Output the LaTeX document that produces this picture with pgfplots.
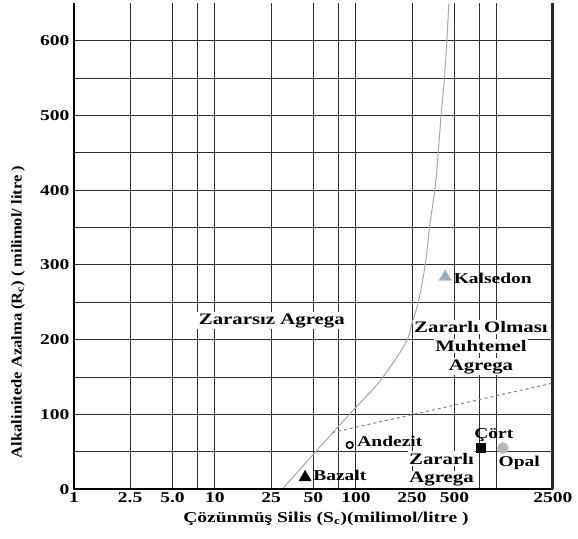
\documentclass[border=0pt]{standalone}
\usepackage{fontspec}
\setmainfont{Liberation Serif}[FakeStretch=1.3]
\newfontfamily\narrowserif{Liberation Serif}[FakeStretch=1.1]
\usepackage{pgfplots}
\pgfplotsset{compat=1.18}
\definecolor{curvegray}{HTML}{A8A8A8}
\definecolor{dashgray}{HTML}{858585}
\definecolor{kalsedon}{HTML}{98AEC4}
\definecolor{opal}{HTML}{B8B8B8}
\newcommand\lab{\fontsize{15}{18}\selectfont\bfseries}
\newcommand\reg{\fontsize{16}{19}\selectfont\bfseries}
\begin{document}
\begin{tikzpicture}
\useasboundingbox (-74pt,-48.7pt) rectangle (504pt,489.3pt);
\begin{axis}[
  at={(0pt,0pt)}, anchor=south west,
  scale only axis, width=479pt, height=486pt,
  xmode=log, xmin=1, xmax=2500, ymin=0, ymax=650,
  xtick={1,2.5,5,10,25,50,100,250,500,2500},
  xticklabels={1,2.5,5.0,10,25,50,100,250,500,2500},
  minor xtick={7.5,75,750,1000},
  ytick={0,100,200,300,400,500,600},
  yticklabels={0,100,200,300,400,500,600},
  minor ytick={50,150,250,350,450,550},
  grid=both,
  major grid style={black!82, line width=1pt},
  minor grid style={black!82, line width=1pt},
  major tick length=0pt, minor tick length=0pt,
  axis line style={draw=none},
  tick label style={font=\fontsize{15}{17}\selectfont\bfseries},
  yticklabel style={xshift=-1pt},
  xlabel={Çözünmüş Silis (S\textsubscript{c})(milimol/litre )},
  ylabel={Alkalinitede Azalma (R\textsubscript{c}) ( milimol/ litre )},
  label style={font=\fontsize{15}{18}\selectfont\bfseries},
  xlabel style={at={(axis description cs:0.526,-0.06)}, anchor=center},
  ylabel style={at={(axis description cs:-0.117,0.365)}, anchor=center, font=\fontsize{15}{18}\narrowserif\bfseries},
  clip=false,
]
% boundary curve
\addplot[curvegray, line width=1pt, smooth, tension=0.55] coordinates {
  (30,0) (53,52.5) (96,106) (149.5,146) (224.5,195) (250,222) (279,253)
  (311,302) (333,351) (369,413.5) (401,498) (424,549) (442,601) (456,650)};
% dashed line
\addplot[dashgray, line width=1pt, dashed] coordinates {(68,76) (2500,142)};
% points
\addplot[only marks, mark=triangle*, mark size=7pt, color=kalsedon] coordinates {(430,284)};
\addplot[only marks, mark=o, mark size=3.3pt, line width=1.6pt, color=black] coordinates {(90.3,59.2)};
\addplot[only marks, mark=triangle*, mark size=7pt, color=black] coordinates {(43.6,16)};
\addplot[only marks, mark=square*, mark size=4.3pt, color=black] coordinates {(771,55.5)};
\addplot[only marks, mark=*, mark size=5.5pt, color=opal] coordinates {(1103,55.2)};
% point labels
\node[anchor=base west, inner sep=0pt, font=\lab] at (axis cs:493,275.4) {Kalsedon};
\node[anchor=base west, inner sep=0pt, font=\lab] at (axis cs:102,57) {Andezit};
\node[anchor=base west, inner sep=0pt, font=\lab] at (axis cs:49.7,12.4) {Bazalt};
\node[anchor=base, inner sep=0pt, font=\lab] at (axis cs:952,68.4) {Çört};
\node[anchor=base west, inner sep=0pt, font=\lab] at (axis cs:1025,30.2) {Opal};
% region labels
\node[anchor=base, fill=white, inner sep=1.5pt, font=\reg] at (axis cs:25.3,220.6) {Zararsız Agrega};
\node[anchor=base, fill=white, inner sep=1.5pt, font=\reg] at (axis cs:771,209.4) {Zararlı Olması};
\node[anchor=base, fill=white, inner sep=1.5pt, font=\reg] at (axis cs:771,184) {Muhtemel};
\node[anchor=base, fill=white, inner sep=1.5pt, font=\reg] at (axis cs:771,159.5) {Agrega};
\node[anchor=base, fill=white, inner sep=1.5pt, font=\reg] at (axis cs:405,33.8) {Zararlı};
\node[anchor=base, fill=white, inner sep=1.5pt, font=\reg] at (axis cs:405,8.8) {Agrega};
% frame (left, bottom, right)
\draw[black, line width=2pt] (rel axis cs:0,1) -- (rel axis cs:0,0) -- (rel axis cs:1,0);
\draw[black!85, line width=3pt] (rel axis cs:1,0) -- (rel axis cs:1,1);
\end{axis}
\end{tikzpicture}
\end{document}
